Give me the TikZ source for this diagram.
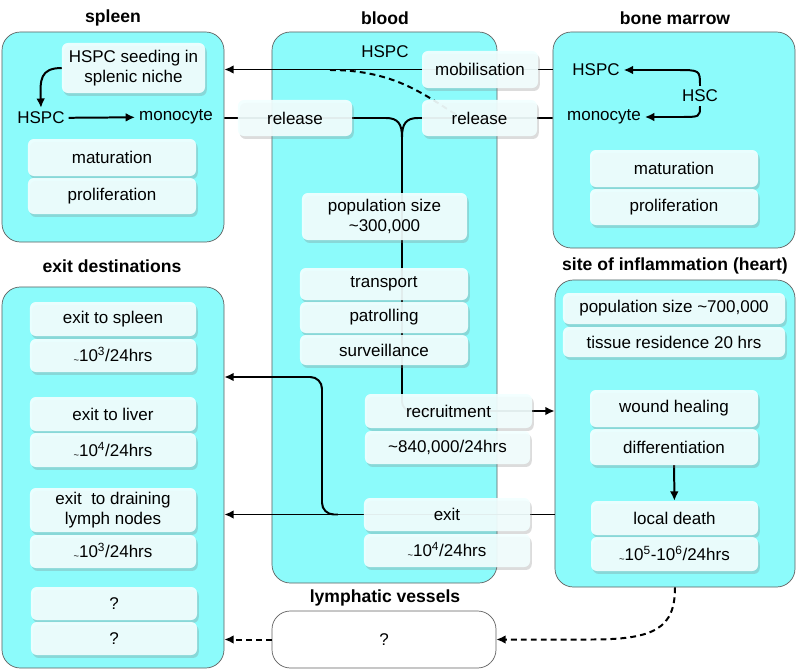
\documentclass[tikz,border=0pt]{standalone}
\usepackage{fontspec}
\setmainfont{Liberation Sans}
\usetikzlibrary{calc,shadows,arrows.meta}
\definecolor{organ}{RGB}{140,251,251}
\definecolor{cellfill}{RGB}{242,255,255}
\newcommand{\bodyfont}{\fontsize{14.5}{17}\selectfont}
\newcommand{\smtilde}{\raisebox{-0.2ex}{\footnotesize\textasciitilde}}
\pgfdeclarelayer{bg}
\pgfdeclarelayer{wires}
\pgfsetlayers{bg,wires,main}
\tikzset{
  region/.style={draw=gray!75!black, line width=0.6pt, rounded corners=0.55cm, fill=organ, inner sep=0pt, font=\bodyfont},
  cell/.style={fill=cellfill, fill opacity=0.92, text opacity=1, rounded corners=5pt,
    drop shadow={shadow xshift=1.5pt, shadow yshift=-2.5pt, opacity=0.28},
    align=center, inner sep=0pt, minimum width=5.04cm, minimum height=1.05cm, font=\bodyfont},
  title/.style={font=\bfseries\fontsize{15}{17}\selectfont},
  plain/.style={font=\bodyfont},
  link/.style={line width=1.7pt},
  flow/.style={line width=1.7pt, -{Latex[length=8pt,width=7.5pt]}},
  dots/.style={dash pattern=on 5pt off 3.5pt},
}
\begin{document}
\begin{tikzpicture}[x=0.03cm, y=-0.03cm]
\useasboundingbox (0,0) rectangle (800,671);

% organs
\begin{pgfonlayer}{bg}
\node[region, minimum width=6.66cm, minimum height=6.3cm] (spleen) at (113,137) {};
\node[region, minimum width=6.75cm, minimum height=16.53cm] (blood) at (384.5,307.5) {};
\node[region, minimum width=7.26cm, minimum height=6.48cm] (marrow) at (674,140) {};
\node[region, minimum width=6.66cm, minimum height=11.43cm] (exits) at (113,477.5) {};
\node[region, minimum width=7.2cm, minimum height=9.21cm] (heart) at (675,433.5) {};
\node[region, fill=white, minimum width=6.72cm, minimum height=1.71cm] (lymph) at (384,639.5) {?};
\end{pgfonlayer}

\node[title] (spleenttl) at (113,18) {spleen};
\node[title] (bloodttl) at (385,18) {blood};
\node[title] (marrowttl) at (675,18) {bone marrow};
\node[title] (exitsttl) at (112,266) {exit destinations};
\node[title] (heartttl) at (675,266) {site of inflammation (heart)};
\node[title] (lymphttl) at (385,598) {lymphatic vessels};

% spleen
\node[cell, minimum width=4.29cm, minimum height=1.5cm] (seed) at (133.5,68) {HSPC seeding in\\splenic niche};
\node[plain] (hspcS) at (41,118) {HSPC};
\node[plain] (monoS) at (176,117) {monocyte};
\node[cell, minimum height=1.11cm] (matS) at (112,157.5) {maturation};
\node[cell, minimum height=1.08cm] (prolS) at (112,196) {proliferation};

% blood
\node[plain] (hspcB) at (385,52) {HSPC};
\node[cell, minimum width=3.48cm, minimum height=1.11cm] (mobil) at (480,69.5) {mobilisation};
\node[cell, minimum width=3.42cm, minimum height=1.08cm] (relS) at (295,118) {release};
\node[cell, minimum width=3.45cm, minimum height=1.08cm] (relM) at (479.5,118) {release};
\node[cell, minimum width=4.95cm, minimum height=1.41cm] (popB) at (384.5,216.5) {population size\\\textasciitilde300,000};
\node[cell, minimum height=0.96cm] (transp) at (384,284) {transport};
\node[cell, minimum height=0.93cm] (patrol) at (384,317.5) {patrolling};
\node[cell, minimum height=0.9cm] (surv) at (384,350) {surveillance};
\node[cell, minimum width=5.01cm, minimum height=1.02cm] (recr) at (448.5,411) {recruitment};
\node[cell, minimum width=4.95cm, minimum height=0.99cm] (recrN) at (447.5,447.5) {\textasciitilde840,000/24hrs};
\node[cell, minimum width=4.98cm, minimum height=0.99cm] (exitB) at (447,514.5) {exit};
\node[cell, minimum width=4.98cm, minimum height=0.99cm] (exitN) at (447,550.5) {\smtilde10\textsuperscript{4}/24hrs};

% bone marrow
\node[plain] (hspcM) at (596,70) {HSPC};
\node[plain] (hsc) at (700,96) {HSC};
\node[plain] (monoM) at (604,117) {monocyte};
\node[cell, minimum height=1.11cm] (matM) at (674,168.5) {maturation};
\node[cell, minimum height=1.08cm] (prolM) at (674,207) {proliferation};

% site of inflammation
\node[cell, minimum width=6.66cm, minimum height=0.93cm] (popH) at (674,308.5) {population size \textasciitilde700,000};
\node[cell, minimum width=6.66cm, minimum height=0.9cm] (resid) at (674,342) {tissue residence 20 hrs};
\node[cell, minimum height=1.11cm] (wound) at (674,408.5) {wound healing};
\node[cell, minimum height=1.08cm] (differ) at (674,447) {differentiation};
\node[cell, minimum width=5.01cm, minimum height=1.02cm] (death) at (674.5,518) {local death};
\node[cell, minimum width=5.01cm, minimum height=1.02cm] (deathN) at (674.5,554) {\smtilde10\textsuperscript{5}-10\textsuperscript{6}/24hrs};

% exit destinations
\node[cell, minimum width=4.98cm, minimum height=1.02cm] (spl) at (113,319) {exit to spleen};
\node[cell, minimum width=4.98cm, minimum height=0.99cm] (splN) at (113,355.5) {\smtilde10\textsuperscript{3}/24hrs};
\node[cell, minimum width=4.98cm, minimum height=1.02cm] (liv) at (113,414) {exit to liver};
\node[cell, minimum width=4.98cm, minimum height=1.02cm] (livN) at (113,450) {\smtilde10\textsuperscript{4}/24hrs};
\node[cell, minimum width=4.98cm, minimum height=1.32cm] (lnode) at (113,510) {exit\ \ to draining\\lymph nodes};
\node[cell, minimum width=4.98cm, minimum height=0.99cm] (lnodeN) at (113,551.5) {\smtilde10\textsuperscript{3}/24hrs};
\node[cell, minimum width=4.98cm, minimum height=0.99cm] (unk) at (114,603.5) {?};
\node[cell, minimum width=4.98cm, minimum height=0.99cm] (unkN) at (114,638.5) {?};

\begin{pgfonlayer}{wires}
% inside the organs
\draw[flow] (hspcS) -- (monoS);
\draw[flow] (seed.west) .. controls (40,68) and (40,80) .. (hspcS.north);
\draw[flow] (hsc.north) .. controls (700,70) .. (676,70) -- (hspcM.east);
\draw[flow] (hsc.south) .. controls (700,117) .. (680,117) -- (monoM.east);
\draw[flow] (differ) -- (death);

% mobilisation and release
\coordinate (hspcjoin) at (330,70);
\coordinate (hspcleave) at (462,118);
\coordinate (fork) at (402,137);
\draw[flow] (marrow.west |- mobil) -- (spleen.east |- mobil);
\draw[link, dots] (hspcjoin) .. controls (400,70) and (430,100) .. (hspcleave);
\draw[link] (marrow.west |- relM) -- (418,118) .. controls (406,118) and (402,124) .. (fork);
\draw[link] (spleen.east |- relS) -- (386,118) .. controls (398,118) and (402,124) .. (fork);
\draw[flow, rounded corners=8pt] (fork) |- (heart.west |- recr);

% exit
\coordinate (exitsplit) at ($(exitB.west)+(-26,0)$);
\coordinate (spleenturn) at (322,377);
\draw[flow] (heart.west |- exitB) -- (exits.east |- exitB);
\draw[flow, rounded corners=10pt] (exitsplit) -| (spleenturn) -- (exits.east |- spleenturn);

% lymphatics
\coordinate (lymphbend) at ($(lymph.east)+(95,0)$);
\draw[flow, dots] (heart.south) .. controls (675,628) and (655,639.5) .. (lymphbend) -- (lymph.east);
\draw[flow, dots] (lymph.west) -- (exits.east |- lymph);
\end{pgfonlayer}
\end{tikzpicture}
\end{document}
